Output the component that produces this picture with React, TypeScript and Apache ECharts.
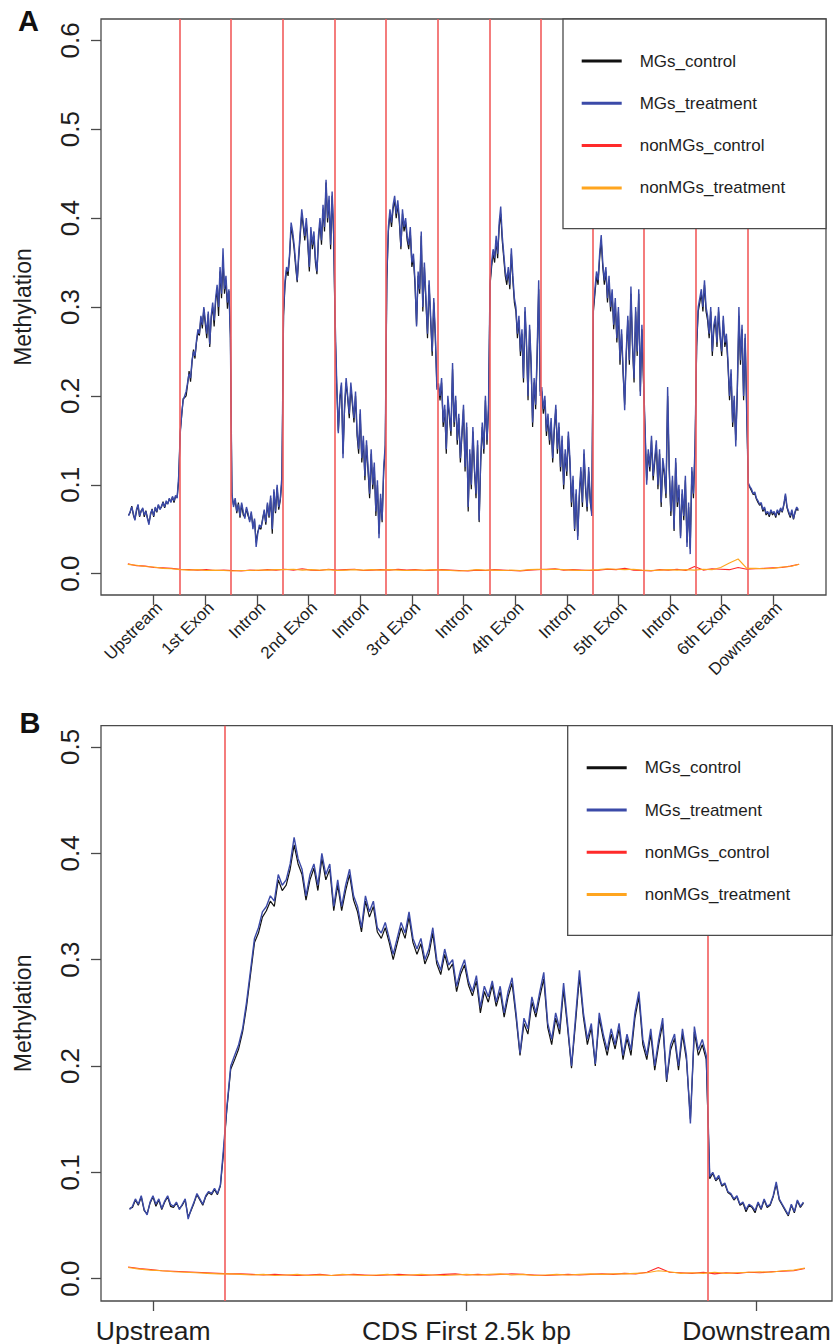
import React, { useEffect, useRef } from 'react';
import * as echarts from 'echarts';

const FONT = "'Liberation Sans', Arial, Helvetica, sans-serif";

const seriesNames = ['MGs_control', 'MGs_treatment', 'nonMGs_control', 'nonMGs_treatment'];
const seriesColors = ['#111111', '#3b4aa8', '#ff2a2a', '#ffa51f'];

// ---------- Panel A ----------
const regionsA = ['Upstream', '1st Exon', 'Intron', '2nd Exon', 'Intron', '3rd Exon', 'Intron', '4th Exon', 'Intron', '5th Exon', 'Intron', '6th Exon', 'Downstream'];
const regionTicksA = [0.5, 1.5, 2.5, 3.5, 4.5, 5.5, 6.5, 7.5, 8.5, 9.5, 10.5, 11.5, 12.5];
const boundsA = [0, 1, 2, 3, 4, 5, 6, 7, 8, 9, 10, 11, 12, 13];
const yTicksA = [0, 0.1, 0.2, 0.3, 0.4, 0.5, 0.6];

// MGs_treatment, one array per region
const trtA0 = [0.065, 0.07, 0.075, 0.068, 0.06, 0.072, 0.078, 0.065, 0.07, 0.074, 0.066, 0.07, 0.062, 0.055, 0.068, 0.072, 0.065, 0.075, 0.07, 0.078, 0.072, 0.076, 0.08, 0.075, 0.082, 0.078, 0.085, 0.08, 0.087, 0.082, 0.088, 0.085, 0.11];
const trtA1 = [0.158, 0.18, 0.195, 0.2, 0.205, 0.215, 0.225, 0.22, 0.24, 0.25, 0.245, 0.262, 0.275, 0.27, 0.29, 0.28, 0.3, 0.285, 0.27, 0.295, 0.258, 0.29, 0.305, 0.285, 0.31, 0.325, 0.3, 0.345, 0.315, 0.366, 0.32, 0.335, 0.305, 0.32, 0.265];
const trtA2 = [0.09, 0.075, 0.085, 0.07, 0.078, 0.065, 0.08, 0.07, 0.062, 0.075, 0.068, 0.058, 0.07, 0.05, 0.062, 0.03, 0.045, 0.055, 0.052, 0.06, 0.072, 0.058, 0.08, 0.065, 0.088, 0.05, 0.095, 0.07, 0.1, 0.075, 0.085, 0.11];
const trtA3 = [0.295, 0.33, 0.345, 0.34, 0.36, 0.395, 0.385, 0.37, 0.35, 0.33, 0.36, 0.385, 0.41, 0.395, 0.38, 0.4, 0.375, 0.345, 0.39, 0.37, 0.385, 0.355, 0.34, 0.38, 0.4, 0.375, 0.415, 0.39, 0.443, 0.4, 0.425, 0.37, 0.43, 0.385];
const trtA4 = [0.283, 0.214, 0.158, 0.2, 0.215, 0.13, 0.19, 0.22, 0.2, 0.18, 0.215, 0.195, 0.175, 0.205, 0.16, 0.14, 0.185, 0.13, 0.155, 0.11, 0.15, 0.12, 0.09, 0.14, 0.1, 0.125, 0.07, 0.105, 0.04, 0.09, 0.06, 0.12, 0.145];
const trtA5 = [0.335, 0.39, 0.41, 0.395, 0.415, 0.425, 0.405, 0.42, 0.4, 0.368, 0.41, 0.39, 0.4, 0.38, 0.37, 0.39, 0.35, 0.36, 0.33, 0.278, 0.34, 0.32, 0.385, 0.3, 0.35, 0.31, 0.27, 0.33, 0.29, 0.25, 0.31, 0.27, 0.207];
const trtA6 = [0.214, 0.2, 0.22, 0.17, 0.19, 0.14, 0.2, 0.18, 0.16, 0.237, 0.17, 0.2, 0.15, 0.18, 0.13, 0.16, 0.19, 0.12, 0.17, 0.075, 0.14, 0.1, 0.165, 0.12, 0.09, 0.15, 0.06, 0.13, 0.17, 0.14, 0.2, 0.15, 0.19];
const trtA7 = [0.33, 0.35, 0.365, 0.355, 0.38, 0.36, 0.395, 0.413, 0.38, 0.36, 0.34, 0.33, 0.345, 0.325, 0.366, 0.335, 0.31, 0.3, 0.27, 0.29, 0.25, 0.275, 0.22, 0.3, 0.26, 0.2, 0.28, 0.24, 0.17, 0.22, 0.19, 0.25, 0.33, 0.2];
const trtA8 = [0.21, 0.185, 0.2, 0.16, 0.18, 0.15, 0.175, 0.13, 0.165, 0.19, 0.14, 0.17, 0.12, 0.155, 0.1, 0.14, 0.115, 0.16, 0.13, 0.08, 0.11, 0.05, 0.095, 0.038, 0.09, 0.12, 0.08, 0.14, 0.1, 0.075, 0.12, 0.085, 0.065];
const trtA9 = [0.3, 0.32, 0.34, 0.33, 0.36, 0.381, 0.35, 0.33, 0.345, 0.31, 0.335, 0.3, 0.32, 0.28, 0.31, 0.265, 0.3, 0.24, 0.275, 0.23, 0.184, 0.25, 0.29, 0.24, 0.323, 0.26, 0.22, 0.3, 0.25, 0.32, 0.2, 0.28, 0.222];
const trtA10 = [0.165, 0.1, 0.14, 0.12, 0.155, 0.11, 0.13, 0.15, 0.1, 0.14, 0.08, 0.13, 0.115, 0.09, 0.21, 0.12, 0.07, 0.11, 0.05, 0.13, 0.08, 0.1, 0.04, 0.095, 0.065, 0.11, 0.03, 0.08, 0.022, 0.12, 0.09, 0.145];
const trtA11 = [0.26, 0.3, 0.31, 0.32, 0.3, 0.33, 0.3, 0.29, 0.27, 0.3, 0.25, 0.28, 0.29, 0.26, 0.3, 0.27, 0.25, 0.29, 0.26, 0.27, 0.24, 0.2, 0.23, 0.17, 0.2, 0.143, 0.21, 0.3, 0.24, 0.28, 0.2, 0.27, 0.18];
const trtA12 = [0.102, 0.098, 0.095, 0.09, 0.092, 0.085, 0.082, 0.078, 0.08, 0.072, 0.075, 0.068, 0.07, 0.066, 0.072, 0.068, 0.07, 0.065, 0.072, 0.068, 0.074, 0.07, 0.078, 0.09, 0.075, 0.07, 0.065, 0.072, 0.062, 0.07, 0.075, 0.072];

// MGs_control, one array per region
const ctlA0 = [0.066, 0.069, 0.076, 0.066, 0.061, 0.07, 0.077, 0.064, 0.071, 0.073, 0.064, 0.071, 0.063, 0.057, 0.066, 0.073, 0.064, 0.074, 0.069, 0.077, 0.073, 0.075, 0.081, 0.074, 0.08, 0.079, 0.084, 0.081, 0.086, 0.08, 0.087, 0.086, 0.105];
const ctlA1 = [0.16, 0.178, 0.197, 0.198, 0.2, 0.213, 0.228, 0.216, 0.238, 0.252, 0.242, 0.26, 0.272, 0.268, 0.288, 0.276, 0.298, 0.28, 0.265, 0.292, 0.255, 0.288, 0.3, 0.278, 0.306, 0.32, 0.29, 0.34, 0.31, 0.355, 0.315, 0.33, 0.298, 0.318, 0.27];
const ctlA2 = [0.088, 0.077, 0.083, 0.068, 0.08, 0.063, 0.078, 0.066, 0.064, 0.073, 0.065, 0.06, 0.068, 0.053, 0.06, 0.035, 0.047, 0.052, 0.05, 0.062, 0.07, 0.055, 0.078, 0.063, 0.085, 0.045, 0.092, 0.068, 0.097, 0.072, 0.083, 0.106];
const ctlA3 = [0.29, 0.325, 0.342, 0.335, 0.357, 0.39, 0.38, 0.365, 0.345, 0.328, 0.355, 0.38, 0.405, 0.39, 0.375, 0.395, 0.37, 0.34, 0.385, 0.365, 0.38, 0.35, 0.337, 0.375, 0.395, 0.37, 0.41, 0.385, 0.44, 0.395, 0.42, 0.365, 0.425, 0.38];
const ctlA4 = [0.27, 0.21, 0.16, 0.195, 0.212, 0.135, 0.185, 0.215, 0.197, 0.175, 0.21, 0.19, 0.17, 0.2, 0.155, 0.135, 0.18, 0.125, 0.15, 0.105, 0.145, 0.115, 0.085, 0.135, 0.095, 0.12, 0.065, 0.1, 0.045, 0.085, 0.058, 0.115, 0.14];
const ctlA5 = [0.33, 0.385, 0.405, 0.39, 0.41, 0.42, 0.4, 0.415, 0.395, 0.365, 0.405, 0.385, 0.395, 0.375, 0.365, 0.385, 0.345, 0.355, 0.325, 0.28, 0.335, 0.315, 0.38, 0.295, 0.345, 0.305, 0.265, 0.325, 0.285, 0.245, 0.305, 0.265, 0.21];
const ctlA6 = [0.21, 0.195, 0.215, 0.165, 0.185, 0.135, 0.195, 0.175, 0.155, 0.23, 0.165, 0.195, 0.145, 0.175, 0.125, 0.155, 0.185, 0.115, 0.165, 0.07, 0.135, 0.095, 0.16, 0.115, 0.085, 0.145, 0.058, 0.125, 0.165, 0.135, 0.195, 0.145, 0.185];
const ctlA7 = [0.325, 0.345, 0.36, 0.35, 0.375, 0.355, 0.39, 0.405, 0.375, 0.355, 0.335, 0.325, 0.34, 0.32, 0.36, 0.33, 0.305, 0.295, 0.265, 0.285, 0.245, 0.27, 0.215, 0.295, 0.255, 0.195, 0.275, 0.235, 0.165, 0.215, 0.185, 0.245, 0.32, 0.205];
const ctlA8 = [0.205, 0.18, 0.195, 0.155, 0.175, 0.145, 0.17, 0.125, 0.16, 0.185, 0.135, 0.165, 0.115, 0.15, 0.095, 0.135, 0.11, 0.155, 0.125, 0.075, 0.105, 0.048, 0.09, 0.042, 0.085, 0.115, 0.075, 0.135, 0.095, 0.07, 0.115, 0.08, 0.068];
const ctlA9 = [0.295, 0.315, 0.335, 0.325, 0.355, 0.375, 0.345, 0.325, 0.34, 0.305, 0.33, 0.295, 0.315, 0.275, 0.305, 0.26, 0.295, 0.235, 0.27, 0.225, 0.19, 0.245, 0.285, 0.235, 0.315, 0.255, 0.215, 0.295, 0.245, 0.315, 0.205, 0.275, 0.218];
const ctlA10 = [0.16, 0.105, 0.135, 0.115, 0.15, 0.105, 0.125, 0.145, 0.095, 0.135, 0.075, 0.125, 0.11, 0.085, 0.2, 0.115, 0.065, 0.105, 0.048, 0.125, 0.075, 0.095, 0.042, 0.09, 0.06, 0.105, 0.035, 0.075, 0.028, 0.115, 0.085, 0.14];
const ctlA11 = [0.255, 0.295, 0.305, 0.315, 0.295, 0.325, 0.295, 0.285, 0.265, 0.295, 0.245, 0.275, 0.285, 0.255, 0.295, 0.265, 0.245, 0.285, 0.255, 0.265, 0.235, 0.195, 0.225, 0.165, 0.195, 0.15, 0.205, 0.29, 0.235, 0.275, 0.195, 0.265, 0.185];
const ctlA12 = [0.1, 0.097, 0.093, 0.089, 0.09, 0.084, 0.08, 0.077, 0.078, 0.07, 0.074, 0.066, 0.069, 0.064, 0.071, 0.066, 0.069, 0.063, 0.071, 0.066, 0.073, 0.069, 0.077, 0.088, 0.074, 0.068, 0.063, 0.07, 0.061, 0.069, 0.073, 0.071];

// nonMGs, whole profile (6 values per region)
const nonCtlA = [
  0.011, 0.009, 0.0085, 0.007, 0.0065, 0.006,
  0.005, 0.0045, 0.004, 0.0045, 0.0035, 0.004,
  0.0035, 0.003, 0.004, 0.0035, 0.0045, 0.004,
  0.005, 0.004, 0.0055, 0.004, 0.0035, 0.005,
  0.004, 0.0045, 0.005, 0.0035, 0.004, 0.0045,
  0.004, 0.005, 0.004, 0.0045, 0.0035, 0.004,
  0.0045, 0.004, 0.0035, 0.003, 0.004, 0.0035,
  0.0045, 0.004, 0.0035, 0.003, 0.004, 0.0045,
  0.005, 0.0055, 0.004, 0.0045, 0.004, 0.0035,
  0.004, 0.005, 0.0045, 0.006, 0.004, 0.0035,
  0.003, 0.0045, 0.004, 0.005, 0.0035, 0.008,
  0.004, 0.0055, 0.005, 0.0045, 0.007, 0.005,
  0.0055, 0.006, 0.0065, 0.007, 0.0085, 0.0105,
];
const nonTrtA = [
  0.0105, 0.0095, 0.008, 0.0075, 0.006, 0.0055,
  0.0045, 0.004, 0.0045, 0.0035, 0.004, 0.0035,
  0.003, 0.0035, 0.0035, 0.004, 0.004, 0.0045,
  0.0045, 0.005, 0.004, 0.0045, 0.004, 0.0045,
  0.0035, 0.004, 0.0045, 0.004, 0.0045, 0.004,
  0.0045, 0.004, 0.0035, 0.004, 0.004, 0.0045,
  0.004, 0.0035, 0.003, 0.0035, 0.0045, 0.004,
  0.004, 0.0035, 0.004, 0.0035, 0.0045, 0.005,
  0.0045, 0.005, 0.0045, 0.004, 0.0035, 0.004,
  0.0045, 0.0055, 0.005, 0.0045, 0.005, 0.004,
  0.0035, 0.004, 0.0045, 0.004, 0.0045, 0.004,
  0.005, 0.0045, 0.007, 0.012, 0.0165, 0.006,
  0.006, 0.0055, 0.006, 0.0075, 0.008, 0.0105,
];

// ---------- Panel B ----------
const regionsB = ['Upstream', 'CDS First 2.5k bp', 'Downstream'];
const regionTicksB = [-370, 1250, 2750];
const boundsB = [-500, 0, 2500, 3000];
const yTicksB = [0, 0.1, 0.2, 0.3, 0.4, 0.5];

const trtB0 = [0.065, 0.068, 0.075, 0.07, 0.078, 0.065, 0.06, 0.072, 0.078, 0.07, 0.075, 0.066, 0.073, 0.078, 0.07, 0.068, 0.072, 0.065, 0.07, 0.075, 0.056, 0.065, 0.072, 0.08, 0.075, 0.07, 0.078, 0.082, 0.08, 0.085, 0.08, 0.088, 0.12];
const trtB1 = [
  0.16, 0.2, 0.21, 0.22, 0.235, 0.26, 0.29, 0.32, 0.33, 0.345,
  0.35, 0.36, 0.355, 0.38, 0.37, 0.375, 0.39, 0.415, 0.395, 0.385,
  0.36, 0.38, 0.39, 0.37, 0.4, 0.38, 0.39, 0.35, 0.375, 0.35,
  0.37, 0.385, 0.36, 0.35, 0.33, 0.36, 0.345, 0.355, 0.33, 0.325,
  0.335, 0.32, 0.305, 0.32, 0.335, 0.325, 0.345, 0.32, 0.31, 0.32,
  0.3, 0.31, 0.33, 0.3, 0.29, 0.31, 0.295, 0.3, 0.275, 0.29,
  0.3, 0.28, 0.27, 0.285, 0.255, 0.275, 0.265, 0.28, 0.26, 0.275,
  0.25, 0.27, 0.283, 0.25, 0.212, 0.245, 0.235, 0.265, 0.25, 0.27,
  0.288, 0.24, 0.225, 0.25, 0.235, 0.278, 0.24, 0.2, 0.245, 0.29,
  0.25, 0.225, 0.24, 0.202, 0.25, 0.23, 0.215, 0.235, 0.22, 0.24,
  0.21, 0.23, 0.215, 0.25, 0.27, 0.225, 0.21, 0.235, 0.2, 0.225,
  0.245, 0.187, 0.22, 0.23, 0.2, 0.235, 0.21, 0.146, 0.237, 0.215,
  0.225, 0.21,
];
const trtB2 = [0.096, 0.1, 0.093, 0.097, 0.088, 0.09, 0.082, 0.08, 0.075, 0.078, 0.07, 0.072, 0.065, 0.07, 0.068, 0.064, 0.072, 0.066, 0.075, 0.068, 0.07, 0.078, 0.091, 0.075, 0.07, 0.065, 0.06, 0.07, 0.063, 0.074, 0.068, 0.072];

const ctlB0 = [0.066, 0.067, 0.074, 0.069, 0.077, 0.064, 0.061, 0.071, 0.077, 0.068, 0.074, 0.065, 0.072, 0.077, 0.068, 0.067, 0.071, 0.066, 0.069, 0.074, 0.058, 0.064, 0.071, 0.079, 0.074, 0.069, 0.077, 0.081, 0.079, 0.084, 0.079, 0.087, 0.116];
const ctlB1 = [
  0.158, 0.197, 0.206, 0.216, 0.232, 0.256, 0.286, 0.316, 0.325, 0.34,
  0.346, 0.355, 0.35, 0.375, 0.365, 0.37, 0.385, 0.408, 0.39, 0.38,
  0.356, 0.375, 0.386, 0.365, 0.395, 0.375, 0.385, 0.346, 0.37, 0.346,
  0.365, 0.38, 0.356, 0.345, 0.326, 0.355, 0.34, 0.35, 0.326, 0.32,
  0.33, 0.316, 0.3, 0.315, 0.33, 0.32, 0.34, 0.316, 0.305, 0.315,
  0.296, 0.305, 0.325, 0.296, 0.286, 0.305, 0.29, 0.296, 0.27, 0.286,
  0.295, 0.276, 0.266, 0.28, 0.25, 0.27, 0.26, 0.276, 0.256, 0.27,
  0.246, 0.265, 0.278, 0.246, 0.21, 0.24, 0.23, 0.26, 0.246, 0.265,
  0.282, 0.236, 0.22, 0.245, 0.23, 0.272, 0.236, 0.198, 0.24, 0.284,
  0.246, 0.22, 0.236, 0.2, 0.245, 0.226, 0.21, 0.23, 0.216, 0.235,
  0.206, 0.226, 0.21, 0.245, 0.265, 0.22, 0.206, 0.23, 0.196, 0.22,
  0.24, 0.185, 0.215, 0.226, 0.196, 0.23, 0.206, 0.15, 0.232, 0.21,
  0.22, 0.206,
];
const ctlB2 = [0.094, 0.099, 0.092, 0.095, 0.087, 0.089, 0.081, 0.079, 0.074, 0.077, 0.069, 0.071, 0.063, 0.069, 0.067, 0.062, 0.071, 0.065, 0.074, 0.067, 0.069, 0.077, 0.089, 0.074, 0.069, 0.064, 0.059, 0.069, 0.062, 0.073, 0.067, 0.071];

const nonCtlB = [
  0.011, 0.0095, 0.0085, 0.0075, 0.007, 0.0065, 0.006, 0.0055, 0.005, 0.0045,
  0.0045, 0.004, 0.0035, 0.004, 0.0035, 0.003, 0.0035, 0.004, 0.003, 0.0035,
  0.004, 0.0035, 0.003, 0.0035, 0.004, 0.0035, 0.003, 0.0035, 0.004, 0.0045,
  0.0035, 0.004, 0.0035, 0.004, 0.0045, 0.004, 0.0035, 0.003, 0.0035, 0.004,
  0.0035, 0.004, 0.0045, 0.004, 0.005, 0.0045, 0.006, 0.0105, 0.006, 0.0055,
  0.005, 0.006, 0.0045, 0.0055, 0.005, 0.006, 0.0055, 0.0065, 0.007, 0.0075, 0.0095,
];
const nonTrtB = [
  0.0105, 0.009, 0.008, 0.0075, 0.0065, 0.006, 0.0055, 0.005, 0.0045, 0.0045,
  0.004, 0.0035, 0.004, 0.003, 0.0035, 0.004, 0.003, 0.0035, 0.003, 0.004,
  0.0035, 0.003, 0.0035, 0.004, 0.003, 0.0035, 0.004, 0.0035, 0.003, 0.0035,
  0.004, 0.0035, 0.004, 0.0045, 0.0035, 0.004, 0.003, 0.0035, 0.004, 0.0035,
  0.004, 0.0045, 0.004, 0.0045, 0.0045, 0.005, 0.0055, 0.0075, 0.0065, 0.005,
  0.0055, 0.005, 0.006, 0.005, 0.0055, 0.006, 0.0065, 0.006, 0.0075, 0.008, 0.01,
];

// ---------- helpers ----------
function place(segs: number[][], bounds: number[]): number[][] {
  const out: number[][] = [];
  segs.forEach((seg, k) => {
    const a = bounds[k];
    const b = bounds[k + 1];
    seg.forEach((v, i) => out.push([a + ((b - a) * (i + 0.5)) / seg.length, v]));
  });
  return out;
}
function spread(vals: number[], a: number, b: number): number[][] {
  return vals.map((v, i) => [a + ((b - a) * i) / (vals.length - 1), v]);
}

const AXIS_COLOR = '#4a4a4a';
const TEXT_COLOR = '#1e1e1e';
const VLINE_COLOR = '#f25c5c';
// rotated region labels of panel A sit slightly right of their ticks
const LABEL_SHIFT_A = 0.11;

function makeLegend(left: number, top: number) {
  return {
    data: seriesNames,
    orient: 'vertical',
    left,
    top,
    padding: 0,
    icon: 'rect',
    itemWidth: 40,
    itemHeight: 3,
    itemGap: 22.3,
    selectedMode: false,
    z: 20,
    textStyle: { fontSize: 17, color: TEXT_COLOR, fontFamily: FONT, lineHeight: 20, padding: [0, 0, 0, 13] },
  };
}

export default function App() {
  const ref = useRef<HTMLDivElement>(null);
  useEffect(() => {
    if (!ref.current) return;
    const chart = echarts.init(ref.current, null, { renderer: 'svg' });

    const ctlA = place([ctlA0, ctlA1, ctlA2, ctlA3, ctlA4, ctlA5, ctlA6, ctlA7, ctlA8, ctlA9, ctlA10, ctlA11, ctlA12], boundsA);
    const trtA = place([trtA0, trtA1, trtA2, trtA3, trtA4, trtA5, trtA6, trtA7, trtA8, trtA9, trtA10, trtA11, trtA12], boundsA);
    const ctlB = place([ctlB0, ctlB1, ctlB2], boundsB);
    const trtB = place([trtB0, trtB1, trtB2], boundsB);
    const dataA = [ctlA, trtA, spread(nonCtlA, 0, 13), spread(nonTrtA, 0, 13)];
    const dataB = [ctlB, trtB, spread(nonCtlB, -500, 3000), spread(nonTrtB, -500, 3000)];

    const lineSeries = (gi: number, data: number[][][], vlines: number[]) =>
      seriesNames.map((name, k) => ({
        name,
        type: 'line',
        xAxisIndex: gi,
        yAxisIndex: gi,
        data: data[k],
        showSymbol: false,
        symbol: 'none',
        silent: true,
        color: seriesColors[k],
        lineStyle: { width: k === 1 ? 1.4 : k === 0 ? 1.2 : 1.1, color: seriesColors[k] },
        z: 2 + k,
        markLine:
          k === 0
            ? {
                silent: true,
                symbol: 'none',
                label: { show: false },
                lineStyle: { color: VLINE_COLOR, width: 1.6, type: 'solid' },
                data: vlines.map((v) => ({ xAxis: v })),
              }
            : undefined,
      }));

    const yAxis = (gi: number, min: number, max: number, ticks: number[]) => ({
      gridIndex: gi,
      type: 'value',
      min,
      max,
      name: 'Methylation',
      nameLocation: 'middle',
      nameGap: 67,
      nameRotate: 90,
      nameTextStyle: { fontSize: 23, color: TEXT_COLOR, fontFamily: FONT },
      splitLine: { show: false },
      axisLine: { show: false, onZero: false },
      axisTick: { show: true, customValues: ticks, length: 10, lineStyle: { color: AXIS_COLOR, width: 1.3 } },
      axisLabel: {
        customValues: ticks,
        rotate: 90,
        margin: 18,
        fontSize: 26,
        color: TEXT_COLOR,
        fontFamily: FONT,
        formatter: (v: number) => v.toFixed(1),
      },
    });

    const option = {
      animation: false,
      backgroundColor: '#ffffff',
      textStyle: { fontFamily: FONT },
      grid: [
        { left: 101, top: 19, width: 725, height: 576, show: true, borderColor: AXIS_COLOR, borderWidth: 1.3, backgroundColor: 'transparent', containLabel: false, outerBoundsMode: 'none' },
        { left: 101, top: 725.7, width: 731, height: 575.3, show: true, borderColor: AXIS_COLOR, borderWidth: 1.3, backgroundColor: 'transparent', containLabel: false, outerBoundsMode: 'none' },
      ],
      xAxis: [
        {
          gridIndex: 0,
          type: 'value',
          min: -0.52,
          max: 13.52,
          splitLine: { show: false },
          axisLine: { show: false, onZero: false },
          axisTick: { show: true, customValues: regionTicksA, length: 10, lineStyle: { color: AXIS_COLOR, width: 1.3 } },
          axisLabel: {
            customValues: regionTicksA.map((t) => t + LABEL_SHIFT_A),
            rotate: 45,
            margin: 10,
            fontSize: 17,
            color: TEXT_COLOR,
            fontFamily: FONT,
            formatter: (v: number) => regionsA[Math.round(v - 0.5 - LABEL_SHIFT_A)] ?? '',
          },
        },
        {
          gridIndex: 1,
          type: 'value',
          min: -640,
          max: 3140,
          splitLine: { show: false },
          axisLine: { show: false, onZero: false },
          axisTick: { show: true, customValues: regionTicksB, length: 10, lineStyle: { color: AXIS_COLOR, width: 1.3 } },
          axisLabel: {
            customValues: regionTicksB,
            margin: 16,
            fontSize: 26.5,
            color: TEXT_COLOR,
            fontFamily: FONT,
            formatter: (v: number) => regionsB[regionTicksB.indexOf(v)] ?? '',
          },
        },
      ],
      yAxis: [yAxis(0, -0.024, 0.624, yTicksA), yAxis(1, -0.021, 0.52, yTicksB)],
      legend: [makeLegend(581.7, 51), makeLegend(586.7, 757.7)],
      graphic: [
        { type: 'rect', z: 10, shape: { x: 563, y: 19, width: 263, height: 209.7 }, style: { fill: '#ffffff', stroke: AXIS_COLOR, lineWidth: 1.3 } },
        { type: 'rect', z: 10, shape: { x: 567.7, y: 725.7, width: 264.3, height: 209.6 }, style: { fill: '#ffffff', stroke: AXIS_COLOR, lineWidth: 1.3 } },
        { type: 'text', z: 10, x: 18, y: 20.5, style: { text: 'A', font: `bold 29px ${FONT}`, fill: '#111', textVerticalAlign: 'middle', verticalAlign: 'middle' } },
        { type: 'text', z: 10, x: 19.5, y: 723.3, style: { text: 'B', font: `bold 29px ${FONT}`, fill: '#111', textVerticalAlign: 'middle', verticalAlign: 'middle' } },
      ],
      series: [...lineSeries(0, dataA, boundsA.slice(1, 13)), ...lineSeries(1, dataB, [0, 2500])],
    };
    chart.setOption(option as any);
    return () => chart.dispose();
  }, []);
  return <div ref={ref} style={{ position: 'absolute', left: 0, top: 0, width: 833, height: 1344 }} />;
}
